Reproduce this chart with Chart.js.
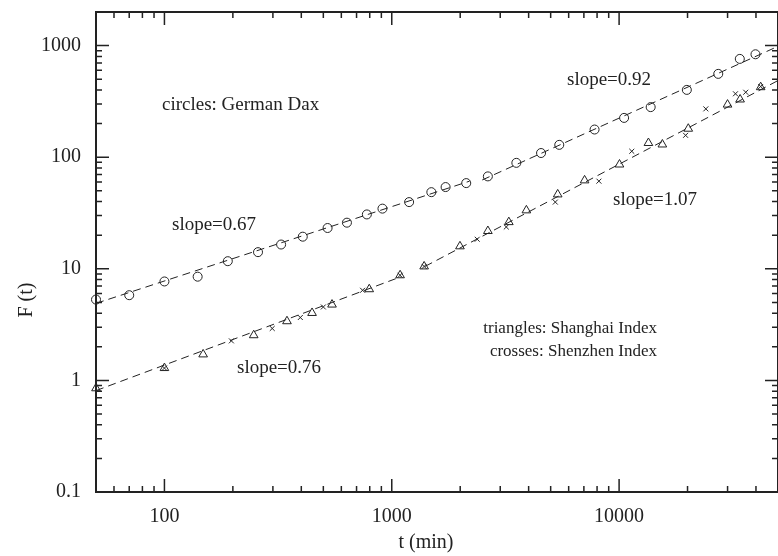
<!DOCTYPE html>
<html>
<head>
<meta charset="utf-8">
<script src="https://cdn.jsdelivr.net/npm/chart.js@4/dist/chart.umd.min.js"></script>
<style>
  html, body { margin: 0; padding: 0; background: #fff; overflow: hidden; }
  #wrap { width: 784px; height: 556px; }
</style>
</head>
<body>
<div id="wrap"><canvas id="fluct-chart" width="784" height="556"></canvas></div>
<script>
// German Dax (circles)
const daxT = [50, 70, 100, 140, 190, 258, 326, 406, 522, 635, 777, 910, 1192, 1493, 1725, 2126, 2647, 3532, 4536, 5455, 7800, 10520, 13770, 19860, 27300, 33960, 39800];
const daxF = [5.3, 5.8, 7.7, 8.5, 11.7, 14.1, 16.5, 19.4, 23.2, 25.9, 30.7, 34.6, 39.6, 48.6, 54, 58.6, 67.3, 89, 109, 129, 177, 225, 281, 401, 558, 760, 836];

// Shanghai Index (triangles)
const shT = [50, 100, 148, 247, 346, 446, 546, 796, 1088, 1388, 1995, 2647, 3273, 3910, 5370, 7050, 10040, 13460, 15500, 20150, 29990, 34060, 41950];
const shF = [0.85, 1.29, 1.71, 2.54, 3.39, 4.02, 4.78, 6.56, 8.75, 10.5, 15.9, 21.8, 26.2, 33.4, 46.4, 62, 86, 134, 130, 180, 296, 329, 424];

// Shenzhen Index (crosses)
const szT = [100, 197, 298, 396, 500, 744, 1088, 1388, 2376, 3190, 5240, 8150, 11370, 19610, 24070, 32500, 36060, 41950];
const szF = [1.29, 2.26, 2.92, 3.66, 4.55, 6.42, 8.75, 10.5, 18.4, 23.7, 39.6, 61, 113, 157, 271, 370, 382, 430];

// fitted power laws (end points)
const daxFit1T = [50, 2200];
const daxFit1F = [4.9, 61];
const daxFit2T = [2500, 50000];
const daxFit2F = [62.5, 985];
const lowFit1T = [50, 1100];
const lowFit1F = [0.81, 8.5];
const lowFit2T = [1400, 50000];
const lowFit2F = [10.5, 486];

const xTicks = [100, 1000, 10000];
const xTickLabels = ["100", "1000", "10000"];
const yTicks = [0.1, 1, 10, 100, 1000];
const yTickLabels = ["0.1", "1", "10", "100", "1000"];

const notes = [
    {text: "circles: German Dax", x: 162, y: 110, align: "left", size: 19},
    {text: "slope=0.67", x: 172, y: 230, align: "left", size: 19},
    {text: "slope=0.76", x: 237, y: 373, align: "left", size: 19},
    {text: "slope=0.92", x: 567, y: 85, align: "left", size: 19},
    {text: "slope=1.07", x: 613, y: 205, align: "left", size: 19},
    {text: "triangles: Shanghai Index", x: 657, y: 333, align: "right", size: 17},
    {text: "crosses: Shenzhen Index", x: 657, y: 356, align: "right", size: 17}
];

const ink = "#222";
const serif = "'Liberation Serif', 'Times New Roman', serif";

function pairs(ts, fs) {
    return ts.map((t, i) => ({x: t, y: fs[i]}));
}

function fitLine(ts, fs) {
    return {
        type: "line",
        data: pairs(ts, fs),
        showLine: true,
        borderColor: ink,
        borderWidth: 1,
        borderDash: [8, 5],
        pointRadius: 0,
        fill: false
    };
}

function markers(ts, fs, style, r) {
    return {
        data: pairs(ts, fs),
        pointStyle: style,
        pointRadius: r,
        pointBorderWidth: 1,
        borderColor: ink,
        backgroundColor: "rgba(0,0,0,0)",
        clip: false
    };
}

function minorValues(min, max) {
    const out = [];
    for (let d = Math.pow(10, Math.floor(Math.log10(min))); d < max; d *= 10) {
        for (let k = 2; k <= 9; k++) {
            const v = k * d;
            if (v > min * 1.001 && v < max * 0.999) out.push(v);
        }
    }
    return out;
}

const frame = {
    id: "frame",
    afterDraw(chart) {
        const ctx = chart.ctx;
        const a = chart.chartArea;
        const sx = chart.scales.x;
        const sy = chart.scales.y;
        ctx.save();
        ctx.strokeStyle = ink;

        // inward ticks on all four sides
        ctx.lineWidth = 1.5;
        ctx.beginPath();
        const xMinor = minorValues(sx.min, sx.max);
        xTicks.concat(xMinor).forEach(v => {
            const len = xTicks.includes(v) ? 13 : 6;
            const px = sx.getPixelForValue(v);
            ctx.moveTo(px, a.bottom); ctx.lineTo(px, a.bottom - len);
            ctx.moveTo(px, a.top); ctx.lineTo(px, a.top + len);
        });
        const yMinor = minorValues(sy.min, sy.max);
        yTicks.concat(yMinor).forEach(v => {
            const len = yTicks.includes(v) ? 13 : 6;
            const py = sy.getPixelForValue(v);
            ctx.moveTo(a.left, py); ctx.lineTo(a.left + len, py);
            ctx.moveTo(a.right, py); ctx.lineTo(a.right - len, py);
        });
        ctx.stroke();

        ctx.lineWidth = 2;
        ctx.strokeRect(a.left, a.top, a.right - a.left, a.bottom - a.top);

        // titles and notes
        ctx.fillStyle = ink;
        ctx.textBaseline = "alphabetic";
        notes.forEach(n => {
            ctx.font = n.size + "px " + serif;
            ctx.textAlign = n.align;
            ctx.fillText(n.text, n.x, n.y);
        });

        ctx.font = "20px " + serif;
        ctx.textAlign = "center";
        ctx.fillText("t (min)", 426, 548);

        ctx.translate(32, 300);
        ctx.rotate(-Math.PI / 2);
        ctx.fillText("F (t)", 0, 0);
        ctx.restore();
    }
};

Chart.defaults.font.family = serif;
Chart.defaults.color = ink;

const canvas = document.getElementById("fluct-chart");

new Chart(canvas, {
    type: "scatter",
    data: {
        datasets: [
            markers(daxT, daxF, "circle", 4.5),
            markers(shT, shF, "triangle", 5),
            markers(szT, szF, "crossRot", 3.5),
            fitLine(daxFit1T, daxFit1F),
            fitLine(daxFit2T, daxFit2F),
            fitLine(lowFit1T, lowFit1F),
            fitLine(lowFit2T, lowFit2F)
        ]
    },
    options: {
        responsive: false,
        animation: false,
        layout: {padding: {top: 12, right: 2, left: 0, bottom: 0}},
        plugins: {
            legend: {display: false},
            tooltip: {enabled: false}
        },
        scales: {
            x: {
                type: "logarithmic",
                min: 50,
                max: 50000,
                grid: {display: false, drawTicks: false},
                border: {display: false},
                afterBuildTicks: s => { s.ticks = xTicks.map(v => ({value: v})); },
                afterFit: s => { s.height = 64; s.paddingLeft = 0; s.paddingRight = 0; },
                ticks: {
                    padding: 13,
                    autoSkip: false,
                    maxRotation: 0,
                    font: {size: 20},
                    color: ink,
                    callback: (v, i) => xTickLabels[i]
                }
            },
            y: {
                type: "logarithmic",
                min: 0.1,
                max: 2000,
                grid: {display: false, drawTicks: false},
                border: {display: false},
                afterBuildTicks: s => { s.ticks = yTicks.map(v => ({value: v})); },
                afterFit: s => { s.width = 96; s.paddingTop = 0; s.paddingBottom = 0; },
                ticks: {
                    padding: 15,
                    autoSkip: false,
                    font: {size: 20},
                    color: ink,
                    callback: (v, i) => yTickLabels[i]
                }
            }
        }
    },
    plugins: [frame]
});
</script>
</body>
</html>
